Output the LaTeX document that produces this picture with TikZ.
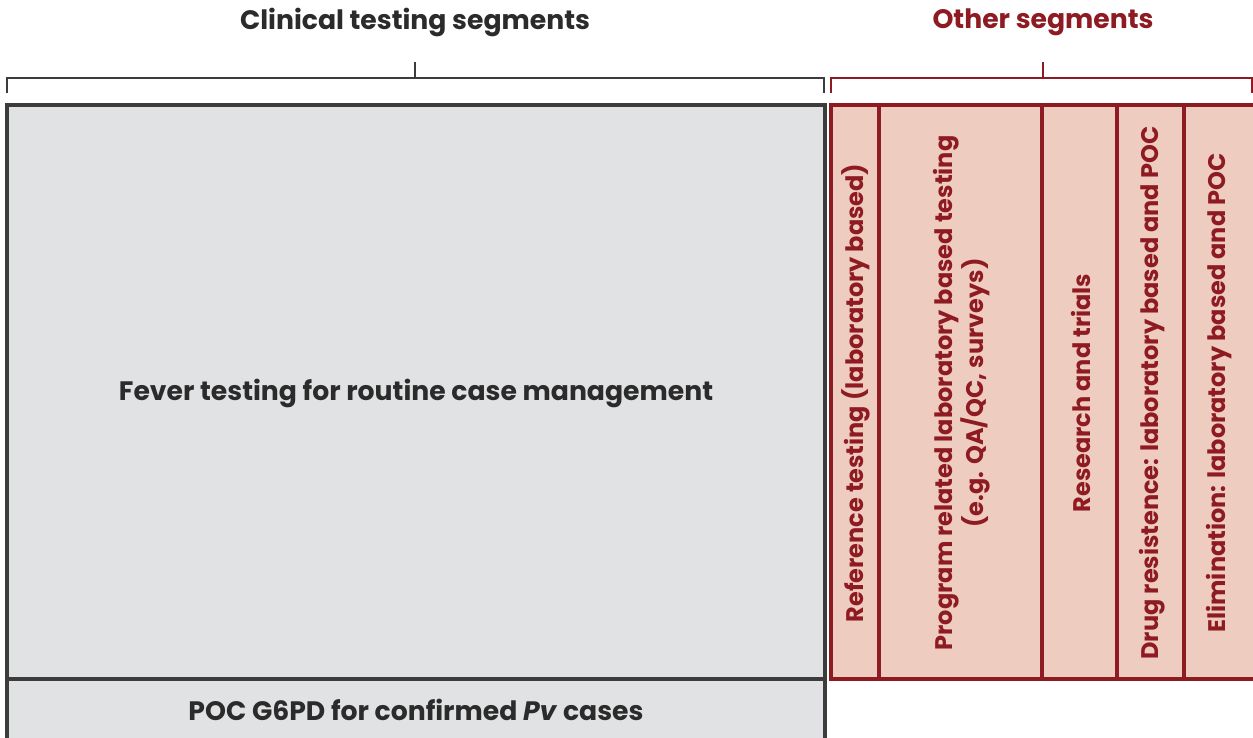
\documentclass[tikz,border=0pt]{standalone}
\usepackage{fontspec}
\setmainfont{Poppins}
\usetikzlibrary{positioning}
\usepackage{xcolor}
\definecolor{clingrey}{HTML}{E1E2E4}
\definecolor{clinline}{HTML}{3C3C3C}
\definecolor{clintext}{HTML}{2B2B2B}
\definecolor{othpink}{HTML}{EFCCC0}
\definecolor{othred}{HTML}{8E1A22}

\tikzset{
    clinbox/.style={draw=clinline, fill=clingrey, line width=2.5pt},
    othbox/.style={draw=othred, fill=othpink, line width=2.5pt},
    clinbrace/.style={draw=clinline, line width=1.9pt},
    othbrace/.style={draw=othred, line width=1.9pt},
    head/.style={font=\bfseries\fontsize{20}{24}\selectfont},
    seglabel/.style={text=clintext, font=\bfseries\fontsize{20}{24}\selectfont},
    collabel/.style={
        text=othred,
        rotate=90,
        align=center,
        font=\bfseries\fontsize{18}{19}\selectfont
    }
}

\begin{document}
\begin{tikzpicture}[x=0.75pt, y=-0.75pt]
        \useasboundingbox (0,0) rectangle (1253,738);

        % brackets
        \draw[clinbrace] (7,93) -- (7,78) -- (824,78) -- (824,93);
        \draw[clinbrace] (415,78) -- (415,62);
        \draw[othbrace] (831,93) -- (831,78) -- (1252,78) -- (1252,93);
        \draw[othbrace] (1043,78) -- (1043,62);

        \node (clin) [head, text=clintext] at (415,22) {Clinical testing segments};
        \node (other) [head, text=othred] at (1043,22) {Other segments};

        % clinical boxes
        \draw[clinbox] (7,105) rectangle (825,679);
        \draw[clinbox] (7,679) rectangle (825,745);
        \node (fever) [seglabel] at (416,393) {Fever testing for routine case management};
        \node (g6pd) [seglabel] at (416,710) {POC G6PD for confirmed \textit{Pv} cases};

        % other segments
        \draw[othbox] (831,105) rectangle (1260,679);
        \foreach \x in {879,1042,1117,1184}
            \draw[othbox] (\x,105) -- (\x,679);

        \node (ref) [collabel] at (856,393) {Reference testing (laboratory based)};
        \node (prog) [collabel] at (962,393) {Program related laboratory based testing\\(e.g. QA/QC, surveys)};
        \node (res) [collabel] at (1081,393) {Research and trials};
        \node (drug) [collabel] at (1152,393) {Drug resistence: laboratory based and POC};
        \node (elim) [collabel] at (1219,393) {Elimination: laboratory based and POC};
    \end{tikzpicture}
\end{document}
